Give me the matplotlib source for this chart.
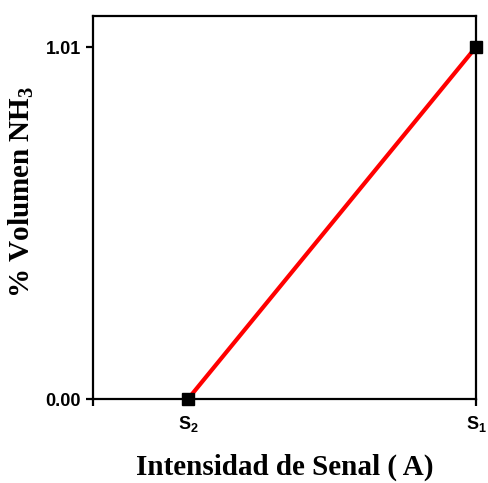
import matplotlib
matplotlib.use("Agg")
import matplotlib.pyplot as plt

# Data
signal_pos = [1, 2]
signal_labels = ["S$_\\mathregular{2}$", "S$_\\mathregular{1}$"]
volume_nh3 = [0.00, 1.01]
y_ticks = [0.00, 1.01]

fig = plt.figure(figsize=(4.88, 4.83), dpi=100)
ax = fig.add_axes([93 / 488, 1 - 399 / 483, 383 / 488, 383 / 483])

ax.plot(signal_pos, volume_nh3, color="red", linewidth=3, marker="s",
        markersize=8, markerfacecolor="black", markeredgecolor="black", zorder=3,
        clip_on=False)

ax.set_xlim(0.67, 2.0)
ax.set_ylim(0, 1.099)
ax.set_xticks(signal_pos)
ax.set_xticklabels(signal_labels, fontfamily="Liberation Sans", fontweight="bold", fontsize=13)
ax.set_yticks(y_ticks)
ax.set_yticklabels(["%.2f" % v for v in y_ticks], fontfamily="Liberation Sans",
                   fontweight="bold", fontsize=13)
ax.set_xticks([0.67], minor=True)

for s in ax.spines.values():
    s.set_linewidth(1.6)
ax.tick_params(which="both", direction="out", width=1.6, length=5)
ax.tick_params(axis="x", pad=6)

ax.set_xlabel("Intensidad de Senal ( A)", fontfamily="Liberation Serif",
              fontweight="bold", fontsize=21, labelpad=14)
ax.set_ylabel("% Volumen NH$_\\mathregular{3}$", fontfamily="Liberation Serif",
              fontweight="bold", fontsize=21)
ax.yaxis.set_label_coords(-0.15, 0.54)

fig.savefig("out.png", dpi=100)
